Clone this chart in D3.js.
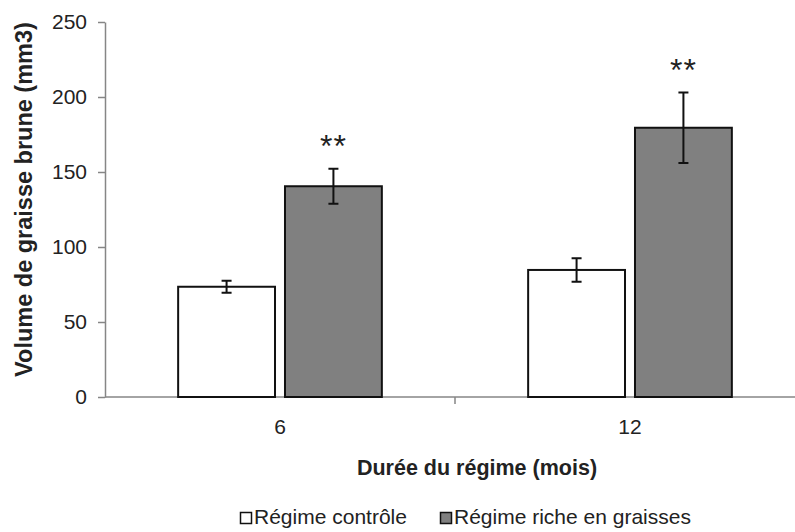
<!DOCTYPE html>
<html>
<head>
<meta charset="utf-8">
<script src="https://cdn.jsdelivr.net/npm/d3@7"></script>
<style>
  html, body { margin: 0; padding: 0; background: #fff; }
  svg { display: block; font-family: "Liberation Sans", Arial, sans-serif; }
</style>
</head>
<body>
<script>
const categories = ["6", "12"];
const seriesNames = ["Régime contrôle", "Régime riche en graisses"];
const controleValues = [73.5, 84.7];
const richeValues = [140.5, 179.5];
const controleErrors = [4.0, 7.8];
const richeErrors = [11.7, 23.5];
const significance = ["**", "**"];
const yTicks = [0, 50, 100, 150, 200, 250];
const yTitle = "Volume de graisse brune (mm3)";
const xTitle = "Durée du régime (mois)";

const W = 795, H = 532;
const mLeft = 105, mRight = 805, mTop = 22, mBottom = 397;
const axisColor = "#868686";
const textColor = "#222";
const fills = ["#ffffff", "#808080"];

const svg = d3.select("body").append("svg").attr("width", W).attr("height", H);

const rows = categories.map((c, i) => ({
  cat: c,
  vals: [
    {s: 0, v: controleValues[i], e: controleErrors[i]},
    {s: 1, v: richeValues[i], e: richeErrors[i]}
  ],
  sig: significance[i]
}));

const x0 = d3.scaleBand().domain(categories).range([mLeft, mRight])
  .paddingInner(0.418).paddingOuter(0.209);
const x1 = d3.scaleBand().domain([0, 1]).range([0, x0.bandwidth()]).paddingInner(0.0935);
const y = d3.scaleLinear().domain([0, 250]).range([mBottom, mTop]);

// y axis
const yAxis = svg.append("g").attr("transform", `translate(${mLeft},0)`)
  .call(d3.axisLeft(y).tickValues(yTicks).tickSize(7).tickSizeOuter(0).tickPadding(11));
yAxis.select(".domain").attr("stroke", axisColor).attr("stroke-width", 1.5);
yAxis.selectAll(".tick line").attr("stroke", axisColor).attr("stroke-width", 1.5);
yAxis.selectAll(".tick text").attr("fill", textColor).style("font-size", "21px")
  .style("font-family", "'Liberation Sans', Arial, sans-serif");

// x axis line and boundary ticks
const step = x0.step();
const boundaries = categories.map(c => x0(c) - x0.paddingOuter() * step).concat([mRight]);
svg.append("line").attr("x1", mLeft).attr("x2", mRight).attr("y1", mBottom).attr("y2", mBottom)
  .attr("stroke", axisColor).attr("stroke-width", 1.5);
svg.selectAll(".xb").data(boundaries.slice(1)).enter().append("line")
  .attr("x1", d => d).attr("x2", d => d).attr("y1", mBottom).attr("y2", mBottom + 7)
  .attr("stroke", axisColor).attr("stroke-width", 1.5);

const xAxis = svg.append("g").attr("transform", `translate(0,${mBottom})`)
  .call(d3.axisBottom(x0).tickSize(0).tickPadding(22));
xAxis.select(".domain").remove();
xAxis.selectAll(".tick text").attr("fill", textColor).style("font-size", "21px")
  .style("font-family", "'Liberation Sans', Arial, sans-serif");

// bars
const groups = svg.selectAll(".grp").data(rows).enter().append("g")
  .attr("transform", d => `translate(${x0(d.cat)},0)`);

groups.selectAll("rect").data(d => d.vals).enter().append("rect")
  .attr("x", d => x1(d.s)).attr("width", x1.bandwidth())
  .attr("y", d => y(d.v)).attr("height", d => y(0) - y(d.v))
  .attr("fill", d => fills[d.s]).attr("stroke", "#111").attr("stroke-width", 2);

// error bars
const capW = 10;
groups.selectAll(".err").data(d => d.vals).enter().append("path")
  .attr("d", d => {
    const cx = x1(d.s) + x1.bandwidth() / 2;
    const y1 = y(d.v + d.e), y2 = y(d.v - d.e);
    return `M${cx},${y1}V${y2}M${cx - capW/2},${y1}H${cx + capW/2}M${cx - capW/2},${y2}H${cx + capW/2}`;
  })
  .attr("fill", "none").attr("stroke", "#111").attr("stroke-width", 2);

// significance stars
groups.append("text")
  .attr("x", d => x1(1) + x1.bandwidth() / 2)
  .attr("y", d => y(d.vals[1].v + d.vals[1].e) - 12)
  .attr("text-anchor", "middle")
  .attr("fill", "#222")
  .style("font-size", "32px")
  .style("letter-spacing", "1px")
  .text(d => d.sig);

// y title
svg.append("text")
  .attr("transform", `translate(32,${(18 + 381) / 2}) rotate(-90)`)
  .attr("text-anchor", "middle").attr("fill", textColor)
  .style("font-size", "23.5px").style("font-weight", "bold")
  .text(yTitle);

// x title
svg.append("text")
  .attr("x", 477).attr("y", 475).attr("text-anchor", "middle").attr("fill", textColor)
  .style("font-size", "21.5px").style("font-weight", "bold")
  .text(xTitle);

// legend
const legendX = [240, 440];
const lg = svg.selectAll(".lg").data(seriesNames).enter().append("g")
  .attr("transform", (d, i) => `translate(${legendX[i]},512)`);
lg.append("rect").attr("x", 0.5).attr("y", 0.5).attr("width", 11).attr("height", 11)
  .attr("fill", (d, i) => fills[i]).attr("stroke", "#111").attr("stroke-width", 1.5);
lg.append("text").attr("x", 14).attr("y", 12).attr("fill", textColor)
  .style("font-size", "21px").text(d => d);
</script>
</body>
</html>
